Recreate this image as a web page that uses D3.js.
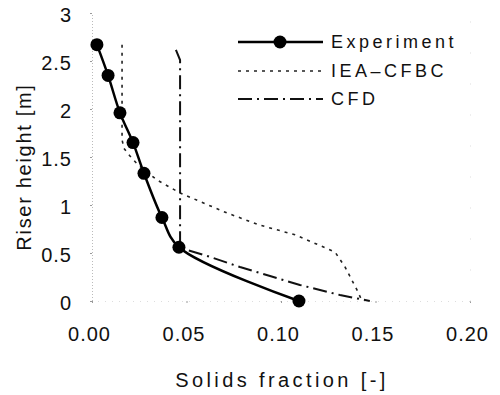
<!DOCTYPE html>
<html><head><meta charset="utf-8">
<script src="https://cdn.jsdelivr.net/npm/d3@7"></script>
<style>
body{margin:0;background:#fff;}
text{font-family:"Liberation Sans",Arial,sans-serif;fill:#111;}
</style></head>
<body><svg id="c" width="500" height="395"></svg>
<script>
const expX = [0.0026, 0.0085, 0.0148, 0.0217, 0.0275, 0.0370, 0.0460, 0.1095];
const expY = [2.67, 2.35, 1.96, 1.65, 1.33, 0.87, 0.56, 0.0];
const ieaX = [0.0159, 0.0159, 0.0169, 0.0201, 0.0243, 0.0344, 0.0466, 0.0714, 0.0889, 0.1074, 0.1286, 0.1339, 0.1402, 0.1429];
const ieaY = [2.67, 1.68, 1.59, 1.51, 1.42, 1.26, 1.125, 0.917, 0.79, 0.69, 0.51, 0.354, 0.115, 0.0];
const cfdX = [0.0444, 0.0466, 0.0466, 0.0608, 0.0783, 0.0942, 0.1100, 0.1312, 0.1470];
const cfdY = [2.615, 2.51, 0.552, 0.47, 0.354, 0.26, 0.167, 0.0625, 0.0];
const xTicks = [0, 0.05, 0.10, 0.15, 0.20];
const yTicks = [0, 0.5, 1, 1.5, 2, 2.5, 3];
const seriesNames = ["Experiment", "IEA\u2013CFBC", "CFD"];

const svg = d3.select("#c");
const x = d3.scaleLinear().domain([0, 0.2]).range([92, 470]);
const y = d3.scaleLinear().domain([0, 3]).range([301, 13]);

// faint axes
const yAx = svg.append("g").attr("transform", "translate(92,0)")
  .call(d3.axisLeft(y).tickValues(yTicks).tickSize(2).tickPadding(18).tickFormat(d => d === 0 ? "0" : d3.format("")(d)));
yAx.select(".domain").attr("stroke", "#bbb").attr("stroke-dasharray", "1,2");
yAx.selectAll(".tick line").attr("stroke", "#999");
yAx.selectAll("text").style("font-size", "20px").attr("dy", "0.42em").style("letter-spacing", "1px");

const xAx = svg.append("g").attr("transform", "translate(0,301)")
  .call(d3.axisBottom(x).tickValues(xTicks).tickSize(2).tickPadding(24).tickFormat(d3.format(".2f")));
xAx.select(".domain").attr("stroke", "#ddd").attr("stroke-dasharray", "1,6");
xAx.selectAll(".tick line").attr("stroke", "#999");
xAx.selectAll("text").style("font-size", "20px").attr("dx", "-3px").style("letter-spacing", "1px");

const rAx = svg.append("g").attr("transform", "translate(470,0)")
  .call(d3.axisRight(y).tickValues(yTicks).tickSize(0).tickFormat(""));
rAx.select(".domain").attr("stroke", "#ddd").attr("stroke-dasharray", "1,30");

// axis titles
svg.append("text").attr("x", 282).attr("y", 387).attr("text-anchor", "middle")
  .style("font-size", "20px").style("letter-spacing", "3.4px").text("Solids fraction [-]");
svg.append("text").attr("transform", "translate(31,167) rotate(-90)").attr("text-anchor", "middle")
  .style("font-size", "20px").style("letter-spacing", "1.7px").text("Riser height [m]");

// lines
const line = d3.line().x(d => x(d[0])).y(d => y(d[1]));
const expData = d3.zip(expX, expY);
const ieaData = d3.zip(ieaX, ieaY);
const cfdData = d3.zip(cfdX, cfdY);

svg.append("path").datum(ieaData).attr("fill", "none").attr("stroke", "#222")
  .attr("stroke-width", 1.6).attr("stroke-dasharray", "3,5")
  .attr("d", line.curve(d3.curveLinear));
svg.append("path").datum(cfdData).attr("fill", "none").attr("stroke", "#111")
  .attr("stroke-width", 2).attr("stroke-dasharray", "14,5,2,5")
  .attr("d", d3.line().x(d => x(d[0])).y(d => y(d[1]))(cfdData));
svg.append("path").datum(expData).attr("fill", "none").attr("stroke", "#000")
  .attr("stroke-width", 2.5)
  .attr("d", d3.line().x(d => x(d[0])).y(d => y(d[1])).curve(d3.curveCatmullRom)(expData));
svg.selectAll("circle.e").data(expData).enter().append("circle")
  .attr("cx", d => x(d[0])).attr("cy", d => y(d[1])).attr("r", 6.5).attr("fill", "#000");

// legend
const lg = svg.append("g");
const ly = [42, 71, 99];
lg.append("line").attr("x1", 238).attr("x2", 323).attr("y1", ly[0]).attr("y2", ly[0]).attr("stroke", "#000").attr("stroke-width", 2.5);
lg.append("circle").attr("cx", 280).attr("cy", ly[0]).attr("r", 6.5).attr("fill", "#000");
lg.append("line").attr("x1", 238).attr("x2", 323).attr("y1", ly[1]).attr("y2", ly[1]).attr("stroke", "#222").attr("stroke-width", 1.6).attr("stroke-dasharray", "3,5");
lg.append("line").attr("x1", 238).attr("x2", 323).attr("y1", ly[2]).attr("y2", ly[2]).attr("stroke", "#111").attr("stroke-width", 2).attr("stroke-dasharray", "14,5,2,5");
seriesNames.forEach((n, i) => {
  lg.append("text").attr("x", 331).attr("y", ly[i]).attr("dy", "0.36em")
    .style("font-size", "18px").style("letter-spacing", "3.5px").text(n);
});
</script></body></html>
